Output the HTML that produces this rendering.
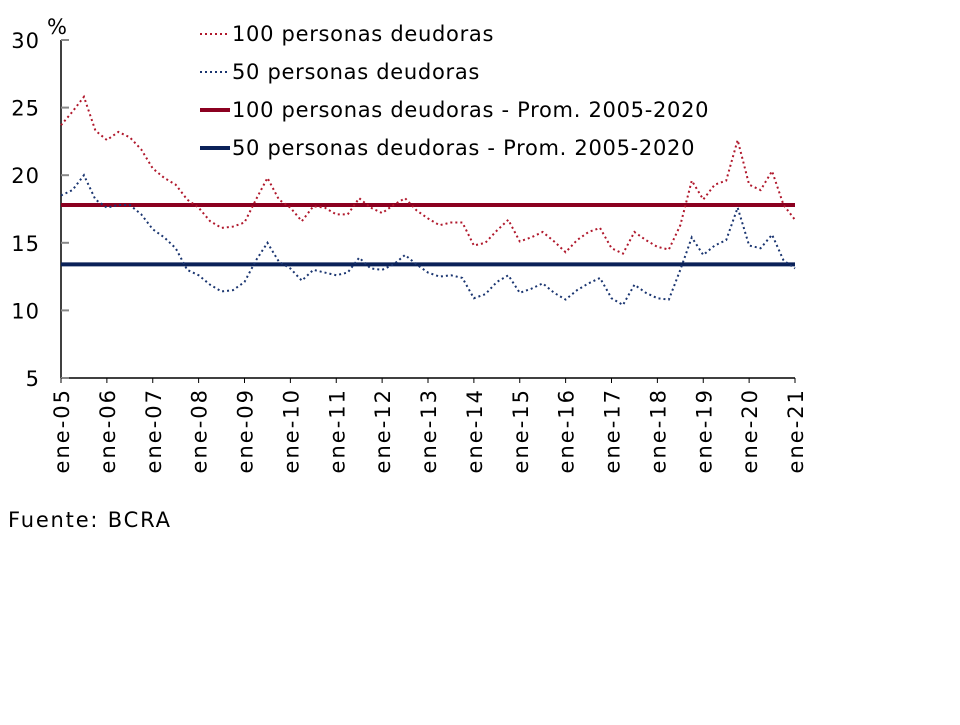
<!DOCTYPE html>
<html><head><meta charset="utf-8"><style>
body{margin:0;background:#fff;width:960px;height:720px;overflow:hidden}
svg text{font-family:"DejaVu Sans","Liberation Sans",sans-serif;fill:#000;white-space:pre}
</style></head><body>
<svg id="c" width="960" height="720"></svg>
<script>
const years=["ene-05","ene-06","ene-07","ene-08","ene-09","ene-10","ene-11","ene-12","ene-13","ene-14","ene-15","ene-16","ene-17","ene-18","ene-19","ene-20","ene-21"];
const yTicks=[5,10,15,20,25,30];
const s100=[23.7,24.7,25.8,23.3,22.6,23.2,22.8,21.9,20.5,19.8,19.3,18.2,17.6,16.6,16.1,16.2,16.5,18.2,19.8,18.2,17.6,16.6,17.7,17.6,17.1,17.1,18.3,17.6,17.2,17.8,18.3,17.4,16.8,16.3,16.5,16.5,14.8,15.0,15.9,16.7,15.1,15.4,15.8,15.1,14.3,15.2,15.8,16.1,14.6,14.2,15.8,15.2,14.7,14.5,16.3,19.6,18.2,19.3,19.6,22.6,19.3,18.9,20.3,17.8,16.7];
const s50=[18.5,18.9,20.0,18.2,17.6,17.8,17.8,17.1,16.0,15.4,14.6,13.0,12.6,11.9,11.4,11.5,12.1,13.7,15.0,13.6,13.1,12.2,13.0,12.8,12.6,12.8,13.9,13.1,13.0,13.4,14.1,13.4,12.8,12.5,12.6,12.4,10.9,11.2,12.1,12.6,11.3,11.6,12.0,11.3,10.8,11.5,12.0,12.4,10.9,10.4,11.9,11.3,10.9,10.8,13.0,15.4,14.1,14.8,15.2,17.6,14.8,14.6,15.6,13.7,13.1];
const avg100=17.8, avg50=13.4;
const x0=61,x1=795,yTop=40,yBot=378;
const X=i=>x0+(x1-x0)*i/(s100.length-1);
const XY=j=>x0+(x1-x0)*j/(years.length-1);
const Y=v=>yBot-(v-5)*(yBot-yTop)/25;
const svg=document.getElementById('c');const NS='http://www.w3.org/2000/svg';
function mk(t,a,p){const e=document.createElementNS(NS,t);for(const k in a)e.setAttribute(k,a[k]);(p||svg).appendChild(e);return e;}
let e=mk('line',{x1:x0,y1:yTop,x2:x0,y2:yBot,stroke:'#000','stroke-width':1.5});


e=mk('line',{x1:x0,y1:yBot,x2:x1,y2:yBot,stroke:'#000','stroke-width':1.5});


yTicks.forEach(v=>{
 mk('line',{x1:x0,y1:Y(v),x2:x0+8,y2:Y(v),stroke:'#888','stroke-width':2});
 const t=mk('text',{x:40,y:Y(v)+8,'text-anchor':'end','font-size':21,'letter-spacing':1});t.textContent=v;
 
 
});
years.forEach((l,j)=>{
 mk('line',{x1:XY(j),y1:yBot,x2:XY(j),y2:yBot+5,stroke:'#000','stroke-width':1});
 const t=mk('text',{x:0,y:0,'text-anchor':'end','font-size':21,'letter-spacing':2,transform:`translate(${XY(j)+8},${yBot+10}) rotate(-90)`});t.textContent=l;
 
 
});
e=mk('text',{x:47,y:34,'font-size':21});e.textContent='%';


e=mk('line',{x1:x0,y1:Y(avg100),x2:x1,y2:Y(avg100),stroke:'#8b0020','stroke-width':4});


e=mk('line',{x1:x0,y1:Y(avg50),x2:x1,y2:Y(avg50),stroke:'#0a2158','stroke-width':4});


e=mk('polyline',{points:s100.map((v,i)=>X(i)+','+Y(v)).join(' '),fill:'none',stroke:'#b0182c','stroke-width':2,'stroke-dasharray':'2 3'});


e=mk('polyline',{points:s50.map((v,i)=>X(i)+','+Y(v)).join(' '),fill:'none',stroke:'#1a3570','stroke-width':2,'stroke-dasharray':'2 3'});


const leg=[['100 personas deudoras','#b0182c',2,'2 3'],['50 personas deudoras','#1a3570',2,'2 3'],['100 personas deudoras - Prom. 2005-2020','#8b0020',4,''],['50 personas deudoras - Prom. 2005-2020','#0a2158',4,'']];
leg.forEach((r,k)=>{
 const y=34+k*38;
 const g=mk('g',{});
 
 
 mk('line',{x1:200,y1:y,x2:230,y2:y,stroke:r[1],'stroke-width':r[2],'stroke-dasharray':r[3]},g);
 const t=mk('text',{x:232,y:y+7,'font-size':21,'letter-spacing':0.7},g);t.textContent=r[0];
});
e=mk('text',{x:8,y:527,'font-size':21,'letter-spacing':1.8});e.textContent='Fuente: BCRA';


</script>
</body></html>
